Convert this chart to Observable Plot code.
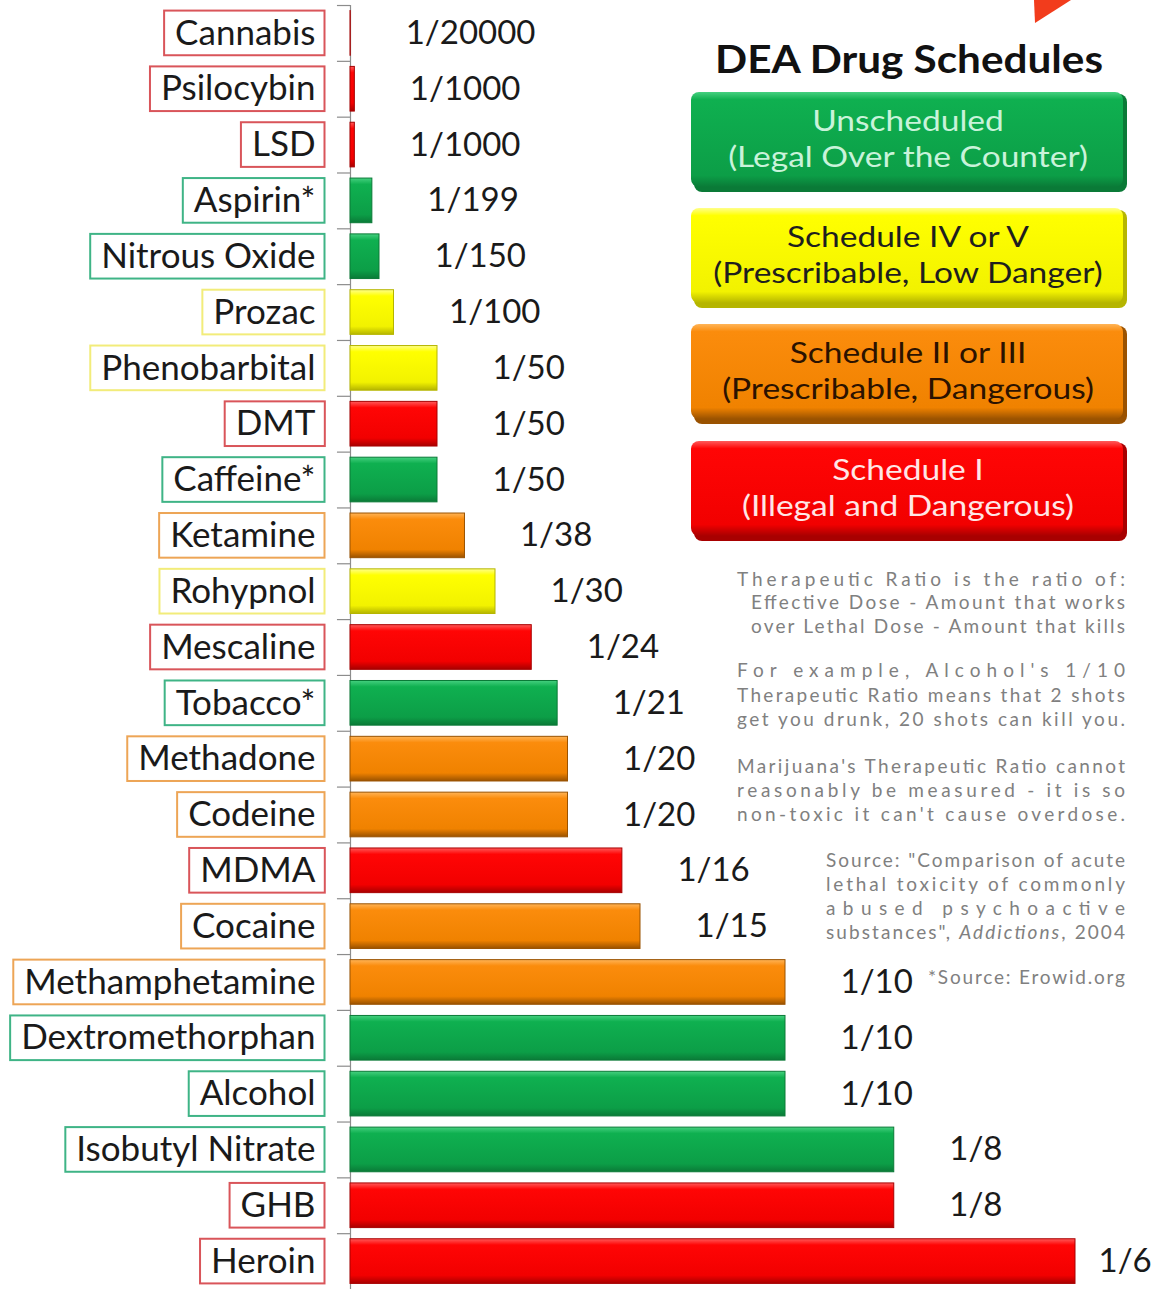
<!DOCTYPE html>
<html>
<head>
<meta charset="utf-8">
<script src="https://cdn.jsdelivr.net/npm/d3@7"></script>
<script src="https://cdn.jsdelivr.net/npm/@observablehq/plot@0.6"></script>
<style>
  html, body { margin: 0; padding: 0; background: #fff; }
  #chart { position: relative; width: 1153px; height: 1289px; overflow: hidden; }
  #chart svg { font-family: Lato, "DejaVu Sans", sans-serif; }
</style>
</head>
<body>
<div id="chart"></div>
<script>
// ---------- data ----------
const names = ["Cannabis","Psilocybin","LSD","Aspirin*","Nitrous Oxide","Prozac","Phenobarbital","DMT","Caffeine*","Ketamine","Rohypnol","Mescaline","Tobacco*","Methadone","Codeine","MDMA","Cocaine","Methamphetamine","Dextromethorphan","Alcohol","Isobutyl Nitrate","GHB","Heroin"];
const ratios = [20000,1000,1000,199,150,100,50,50,50,38,30,24,21,20,20,16,15,10,10,10,8,8,6];
const schedules = ["I","I","I","U","U","IV","IV","I","U","II","IV","I","U","II","II","I","II","II","U","U","U","I","I"];

const legendKeys = ["U","IV","II","I"];
const legendLine1 = ["Unscheduled","Schedule IV or V","Schedule II or III","Schedule I"];
const legendLine2 = ["(Legal Over the Counter)","(Prescribable, Low Danger)","(Prescribable, Dangerous)","(Illegal and Dangerous)"];
const legendTitle = "DEA Drug Schedules";

const noteLines = [
  "Therapeutic Ratio is the ratio of:",
  "Effective Dose - Amount that works",
  "over Lethal Dose - Amount that kills",
  "For example, Alcohol's 1/10",
  "Therapeutic Ratio means that 2 shots",
  "get you drunk, 20 shots can kill you.",
  "Marijuana's Therapeutic Ratio cannot",
  "reasonably be measured - it is so",
  "non-toxic it can't cause overdose."
];
const sourceLines = [
  "Source: \"Comparison of acute",
  "lethal toxicity of commonly",
  "abused psychoactive"
];
const sourceLast = ["substances\", ", "Addictions", ", 2004"];
const erowidNote = "*Source: Erowid.org";

// ---------- styles ----------
const palette = {
  U:  {top:"#45d07f", base:"#0fb050", low:"#0c9e47", edge:"#0a7a37", box:"#3fb486", legText:"#c9f3da"},
  IV: {top:"#ffff8a", base:"#ffff00", low:"#f2f200", edge:"#b5b500", box:"#f2ec7a", legText:"#1e1e1e"},
  II: {top:"#ffb457", base:"#fb8c0c", low:"#f08200", edge:"#9a5200", box:"#eda556", legText:"#2b1200"},
  I:  {top:"#ff5a5a", base:"#ff0505", low:"#f20000", edge:"#a80000", box:"#d9555a", legText:"#ffe6e6"}
};

const data = names.map((name, i) => ({name, ratio: ratios[i], value: 1 / ratios[i], sched: schedules[i]}));

const plot = Plot.plot({
  width: 1153,
  height: 1289,
  marginLeft: 350,
  marginRight: 78,
  marginTop: 5,
  marginBottom: 0,
  style: {background: "white", overflow: "visible"},
  x: {domain: [0, 1/6], axis: null},
  y: {domain: names, axis: null, paddingInner: 0.2, paddingOuter: 0.1, round: false},
  marks: [
    Plot.ruleY(names, {y: d => d, x1: -0.003, x2: 0, dy: -27.9, stroke: "#8c8c8c", strokeWidth: 1.2}),
    Plot.ruleX([0], {stroke: "#8c8c8c", strokeWidth: 1.2}),
    ...legendKeys.map(k => Plot.barX(data.filter(d => d.sched === k), {
      x: "value", y: "name", fill: `url(#bar-${k})`, stroke: palette[k].edge, strokeWidth: 1
    })),
    Plot.text(data, {x: 0, y: "name", text: "name", textAnchor: "end", dx: -35, fontSize: 35, fill: "#1a1a1a"}),
    Plot.text(data.filter(d => d.value < 0.15), {x: "value", y: "name", text: d => "1/" + d.ratio, textAnchor: "start", dx: 55, fontSize: 33, fill: "#1a1a1a"}),
    Plot.text(data.filter(d => d.value >= 0.15), {x: "value", y: "name", text: d => "1/" + d.ratio, textAnchor: "start", dx: 23, fontSize: 33, fill: "#1a1a1a"})
  ]
});

document.getElementById("chart").appendChild(plot);

const svg = d3.select(plot);
const defs = svg.insert("defs", ":first-child");
for (const k of legendKeys) {
  const p = palette[k];
  const g = defs.append("linearGradient").attr("id", `bar-${k}`).attr("x1", 0).attr("y1", 0).attr("x2", 0).attr("y2", 1);
  g.append("stop").attr("offset", "0%").attr("stop-color", p.top);
  g.append("stop").attr("offset", "14%").attr("stop-color", p.base);
  g.append("stop").attr("offset", "82%").attr("stop-color", p.low);
  g.append("stop").attr("offset", "100%").attr("stop-color", p.edge);
  const lg = defs.append("linearGradient").attr("id", `leg-${k}`).attr("x1", 0).attr("y1", 0).attr("x2", 0).attr("y2", 1);
  lg.append("stop").attr("offset", "0%").attr("stop-color", p.top);
  lg.append("stop").attr("offset", "8%").attr("stop-color", p.base);
  lg.append("stop").attr("offset", "88%").attr("stop-color", p.low);
  lg.append("stop").attr("offset", "100%").attr("stop-color", p.edge);
}

// label boxes around drug names
const yScale = plot.scale("y");
const svgRect = plot.getBoundingClientRect();
const textGroups = plot.querySelectorAll('g[aria-label="text"]');
const labelTexts = textGroups[0].querySelectorAll("text");
const boxG = svg.insert("g", 'g[aria-label="text"]');
labelTexts.forEach((t, i) => {
  const r = t.getBoundingClientRect();
  const d = data[i];
  boxG.append("rect")
    .attr("x", r.left - svgRect.left - 11)
    .attr("width", r.width + 20)
    .attr("y", yScale.apply(d.name))
    .attr("height", yScale.bandwidth)
    .attr("fill", "white")
    .attr("stroke", palette[d.sched].box)
    .attr("stroke-width", 2);
});

// top-right arrow fragment
svg.append("path").attr("d", "M1034,0L1071,0L1035,23Z").attr("fill", "#f23c1c");

// legend
const leg = svg.append("g").attr("text-anchor", "middle");
leg.append("text").attr("x", 909).attr("y", 73)
  .attr("font-size", 39).attr("font-weight", "bold").attr("fill", "#111")
  .attr("textLength", 388).attr("lengthAdjust", "spacingAndGlyphs").text(legendTitle);
const legTops = [92, 208, 324, 441];
function legendText(x, y, s, color) {
  const t = leg.append("text").attr("x", x).attr("y", y).attr("font-size", 33.5).attr("fill", color).text(s);
  const w = t.node().getComputedTextLength();
  t.attr("font-size", 29).attr("textLength", w).attr("lengthAdjust", "spacingAndGlyphs");
}
legendKeys.forEach((k, i) => {
  const p = palette[k];
  const top = legTops[i];
  leg.append("rect").attr("x", 694).attr("y", top + 2).attr("width", 433).attr("height", 98).attr("rx", 8).attr("fill", p.edge);
  leg.append("rect").attr("x", 691).attr("y", top).attr("width", 432).attr("height", 95).attr("rx", 8).attr("fill", `url(#leg-${k})`);
  legendText(908, top + 39, legendLine1[i], p.legText);
  legendText(908, top + 75, legendLine2[i], p.legText);
});

// notes
const notes = svg.append("g").attr("fill", "#808080").attr("font-size", 19).attr("text-anchor", "start");
const noteX = [737, 751, 751, 737, 737, 737, 737, 737, 737];
const noteY = [586, 609, 633, 677, 702, 726, 773, 797, 821];
noteLines.forEach((s, i) => {
  notes.append("text").attr("x", noteX[i]).attr("y", noteY[i])
    .attr("textLength", 1125 - noteX[i]).attr("lengthAdjust", "spacing").text(s);
});
const srcY = [867, 891, 915, 939];
sourceLines.forEach((s, i) => {
  notes.append("text").attr("x", 826).attr("y", srcY[i])
    .attr("textLength", 1125 - 826).attr("lengthAdjust", "spacing").text(s);
});
const last = notes.append("text").attr("x", 826).attr("y", srcY[3])
  .attr("textLength", 1125 - 826).attr("lengthAdjust", "spacing");
last.append("tspan").text(sourceLast[0]);
last.append("tspan").attr("font-style", "italic").text(sourceLast[1]);
last.append("tspan").text(sourceLast[2]);
notes.append("text").attr("x", 928).attr("y", 984).attr("font-size", 19)
  .attr("textLength", 1125 - 928).attr("lengthAdjust", "spacing").text(erowidNote);
</script>
</body>
</html>
